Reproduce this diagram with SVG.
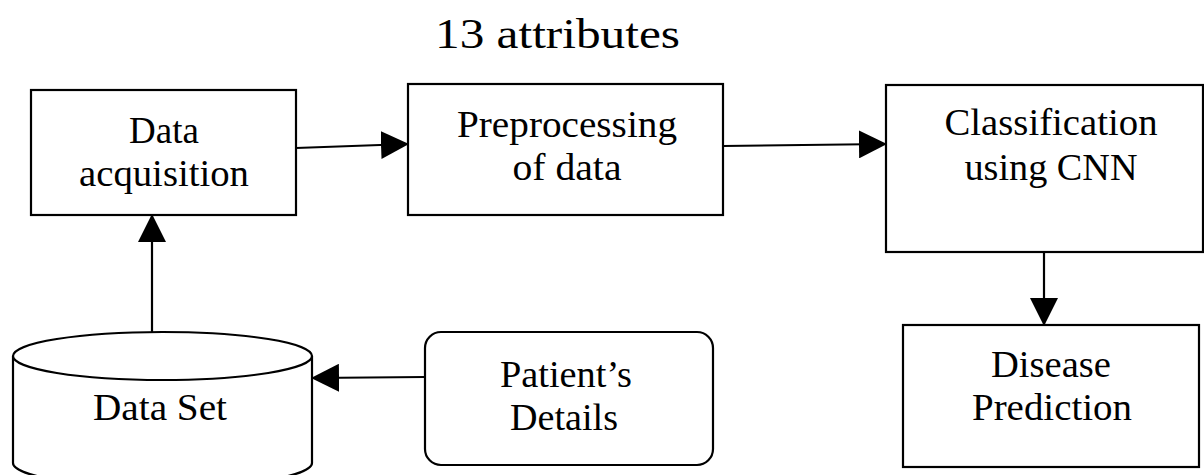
<svg xmlns="http://www.w3.org/2000/svg" width="1204" height="475" viewBox="0 0 1204 475">
  <style>
    .box { fill: #ffffff; stroke: #000000; stroke-width: 2.2; }
    .lbl { font-family: "Liberation Serif", "Times New Roman", serif; font-size: 37px; fill: #000000; text-anchor: middle; }
    .title { font-family: "Liberation Serif", "Times New Roman", serif; font-size: 42px; fill: #000000; }
    .edge { stroke: #000000; stroke-width: 2.2; fill: none; marker-end: url(#head); }
  </style>
  <defs>
    <marker id="head" markerUnits="userSpaceOnUse" markerWidth="28" markerHeight="28" viewBox="0 0 28 28" refX="27" refY="14" orient="auto">
      <path d="M0,0 L28,14 L0,28 Z" fill="#000000"/>
    </marker>
  </defs>

  <rect width="1204" height="475" fill="#ffffff"/>

  <text class="title" x="435" y="48" textLength="245" lengthAdjust="spacingAndGlyphs">13 attributes</text>

  <g id="data-acquisition">
    <rect class="box" x="31" y="90" width="265" height="125"/>
    <text class="lbl" x="164" y="143">Data</text>
    <text class="lbl" x="164" y="186" textLength="170" lengthAdjust="spacingAndGlyphs">acquisition</text>
  </g>

  <g id="preprocessing">
    <rect class="box" x="408" y="84" width="315" height="131"/>
    <text class="lbl" x="567" y="137" textLength="220" lengthAdjust="spacingAndGlyphs">Preprocessing</text>
    <text class="lbl" x="567" y="180" textLength="109" lengthAdjust="spacingAndGlyphs">of data</text>
  </g>

  <g id="classification">
    <rect class="box" x="886" y="85" width="317" height="167"/>
    <text class="lbl" x="1051" y="135" textLength="213" lengthAdjust="spacingAndGlyphs">Classification</text>
    <text class="lbl" x="1051" y="180" textLength="173" lengthAdjust="spacingAndGlyphs">using CNN</text>
  </g>

  <g id="disease-prediction">
    <rect class="box" x="903" y="325" width="296" height="142"/>
    <text class="lbl" x="1051" y="377" textLength="120" lengthAdjust="spacingAndGlyphs">Disease</text>
    <text class="lbl" x="1052" y="420" textLength="160" lengthAdjust="spacingAndGlyphs">Prediction</text>
  </g>

  <g id="data-set">
    <path class="box" d="M13,356 V463 A149.5,24 0 0 0 312,463 V356"/>
    <ellipse class="box" cx="162.5" cy="356" rx="149.5" ry="24"/>
    <text class="lbl" x="160" y="420" textLength="134" lengthAdjust="spacingAndGlyphs">Data Set</text>
  </g>

  <g id="patient-details">
    <rect class="box" x="425" y="332" width="288" height="133" rx="16" ry="16"/>
    <text class="lbl" x="566" y="387" textLength="132" lengthAdjust="spacingAndGlyphs">Patient’s</text>
    <text class="lbl" x="564" y="430" textLength="108" lengthAdjust="spacingAndGlyphs">Details</text>
  </g>

  <g id="connectors">
    <line class="edge" x1="296" y1="148" x2="408" y2="144"/>
    <line class="edge" x1="723" y1="146" x2="886" y2="144"/>
    <line class="edge" x1="152" y1="332" x2="152" y2="215"/>
    <line class="edge" x1="425" y1="377" x2="312" y2="378"/>
    <line class="edge" x1="1044" y1="252" x2="1044" y2="325"/>
  </g>
</svg>
